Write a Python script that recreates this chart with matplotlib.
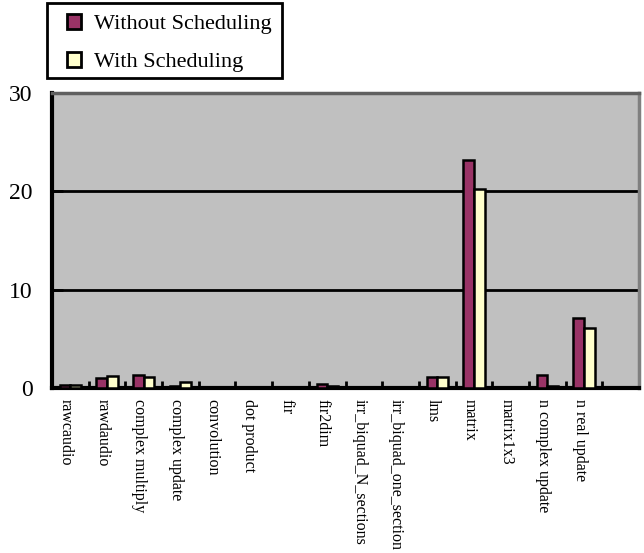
import numpy as np
import matplotlib.pyplot as plt
from matplotlib.patches import Patch, Rectangle

plt.rcParams['font.family'] = ['Liberation Serif', 'DejaVu Serif']

benchmarks = ['rawcaudio', 'rawdaudio', 'complex multiply', 'complex update',
              'convolution', 'dot product', 'fir', 'fir2dim',
              'irr_biquad_N_sections', 'irr_biquad_one_section', 'lms',
              'matrix', 'matrix1x3', 'n complex update', 'n real update', '']
without_sched = [0.3, 1.0, 1.3, 0.2, 0.0, 0.1, 0.1, 0.4, 0.1, 0.0, 1.1,
                 23.2, 0.1, 1.3, 7.1, 0.0]
with_sched = [0.3, 1.25, 1.1, 0.6, 0.0, 0.0, 0.1, 0.2, 0.0, 0.0, 1.1,
              20.2, 0.1, 0.2, 6.1, 0.0]

W, H = 644, 553
fig = plt.figure(figsize=(W/100, H/100), dpi=100)
ax = fig.add_axes([52/W, 1-388/H, 587/W, 295/H])
ax.set_facecolor('#C0C0C0')

x = np.arange(len(benchmarks))
w = 0.29
ax.bar(x - w/2, without_sched, w, color='#993366', edgecolor='black', linewidth=1.8, zorder=3)
ax.bar(x + w/2, with_sched, w, color='#FFFFCC', edgecolor='black', linewidth=1.8, zorder=3)

ax.set_xlim(-0.5, len(benchmarks) - 0.5)
ax.set_ylim(0, 30)
ax.set_yticks([0, 10, 20, 30])
ax.tick_params(axis='y', direction='in', length=8, width=2, pad=14, labelsize=17)
for yv in (10, 20):
    ax.axhline(yv, color='black', linewidth=2, zorder=1)

# category labels centered, tick marks on the category boundaries
ax.set_xticks(x - 0.12)
ax.set_xticklabels(benchmarks, rotation=-90, fontsize=11.5, va='top', ha='center')
ax.tick_params(axis='x', which='major', length=0, pad=8)
ax.set_xticks(np.arange(-0.5, len(benchmarks)), minor=True)
ax.tick_params(axis='x', which='minor', direction='in', length=5, width=2)

ax.spines['left'].set_linewidth(3)
ax.spines['bottom'].set_linewidth(3)
ax.spines['top'].set_color('#606060')
ax.spines['top'].set_linewidth(2.5)
ax.spines['right'].set_color('#808080')
ax.spines['right'].set_linewidth(2.5)

# legend: entries without frame, box drawn separately
handles = [Patch(facecolor='#993366', edgecolor='black', linewidth=2),
           Patch(facecolor='#FFFFCC', edgecolor='black', linewidth=2)]
fig.legend(handles, ['Without Scheduling', 'With Scheduling'],
           loc='upper left', bbox_to_anchor=(67/W, 1-14/H),
           borderaxespad=0, borderpad=0, frameon=False, fontsize=16,
           handlelength=0.65, handleheight=0.65, handletextpad=0.55,
           labelspacing=0.8)
fig.patches.append(Rectangle((47/W, 1-78/H), 235/W, 75/H, transform=fig.transFigure,
                             facecolor='none', edgecolor='black', linewidth=2))

fig.savefig('out.png', dpi=100)
